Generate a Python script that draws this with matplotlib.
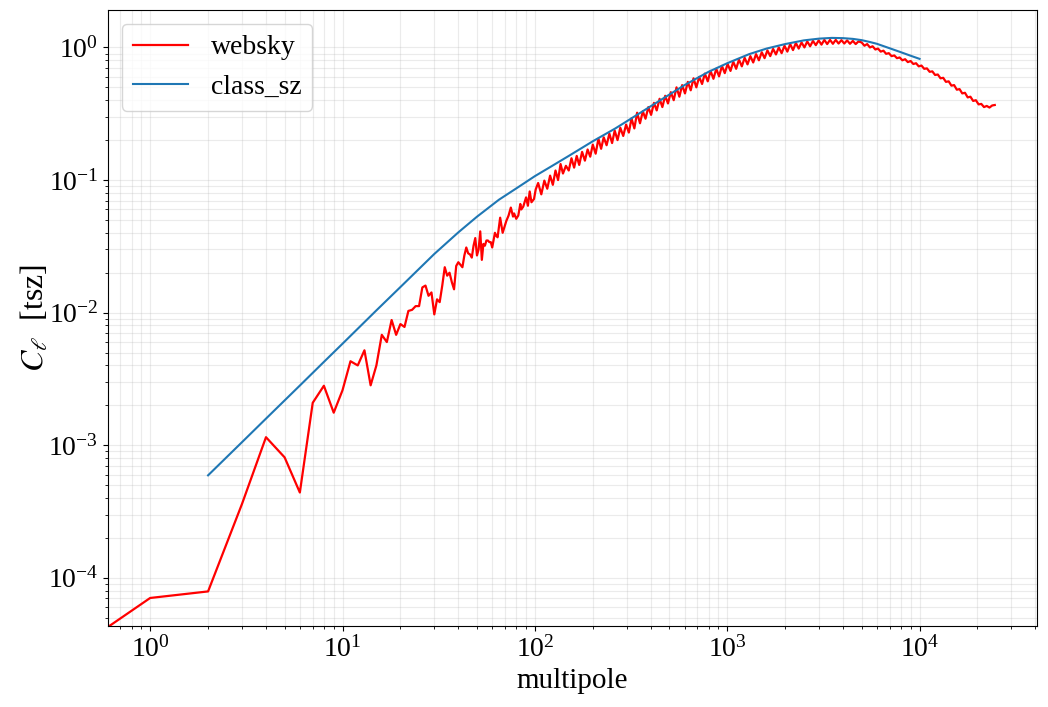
import numpy as np
import matplotlib.pyplot as plt


# ==================================
# DATA
# ==================================

# websky tSZ power spectrum, low multipoles one by one
ell_web_low = [0, 1, 2, 3, 4, 5, 6, 7, 8, 9,
               10, 11, 12, 13, 14, 15, 16, 17, 18, 19,
               20, 21, 22, 23, 24, 25, 26, 27, 28, 29,
               30, 31, 32, 33, 34, 35, 36, 37, 38, 39,
               40, 41, 42, 43, 44, 45, 46, 47, 48, 49,
               50, 51, 52, 53, 54, 55, 56, 57, 58, 59,
               60, 62, 63, 64, 66, 68, 70, 71, 73, 75,
               77, 78, 80, 82, 84, 85, 87, 90, 92, 94,
               96, 99, 101]

cl_web_low = [0.0, 7.05e-5, 7.9e-5, 3.6e-4, 1.15e-3, 8.1e-4, 4.4e-4, 2.09e-3, 2.81e-3, 1.76e-3,
              2.6e-3, 4.3e-3, 4.0e-3, 5.2e-3, 2.83e-3, 4.0e-3, 6.8e-3, 6.0e-3, 8.8e-3, 6.8e-3,
              8.2e-3, 7.8e-3, 1.03e-2, 1.05e-2, 1.12e-2, 1.12e-2, 1.55e-2, 1.6e-2, 1.34e-2, 1.42e-2,
              9.7e-3, 1.26e-2, 1.2e-2, 1.6e-2, 2.2e-2, 1.9e-2, 2.0e-2, 1.7e-2, 1.5e-2, 2.25e-2,
              2.4e-2, 2.3e-2, 2.2e-2, 2.7e-2, 3.1e-2, 2.8e-2, 2.75e-2, 2.6e-2, 3.2e-2, 3.65e-2,
              2.7e-2, 3.0e-2, 4.1e-2, 2.5e-2, 3.3e-2, 3.2e-2, 3.5e-2, 3.5e-2, 3.4e-2, 3.4e-2,
              3.1e-2, 4.0e-2, 3.8e-2, 3.7e-2, 5.2e-2, 4.0e-2, 4.6e-2, 4.9e-2, 5.4e-2, 6.2e-2,
              5.3e-2, 5.6e-2, 5.1e-2, 5.4e-2, 6.6e-2, 6.0e-2, 6.3e-2, 7.4e-2, 6.4e-2, 8.2e-2,
              6.8e-2, 7.2e-2, 8.5e-2]

# websky, higher multipoles: upper / lower edge of the noisy band
ell_web_high = [104, 108, 112, 116, 120, 124, 128, 132, 136, 140,
                145, 150, 155, 160, 165, 170, 176, 182, 188, 194,
                200, 207, 214, 221, 228, 236, 244, 252, 260, 269,
                278, 288, 298, 308, 318, 329, 340, 352, 364, 376,
                389, 402, 416, 430, 445, 460, 476, 492, 509, 527,
                545, 564, 583, 603, 624, 646, 668, 691, 715, 740,
                765, 792, 819, 848, 877, 907, 939, 971, 1005, 1040,
                1075, 1113, 1151, 1191, 1232, 1275, 1319, 1365, 1412, 1461,
                1512, 1564, 1618, 1674, 1732, 1792, 1854, 1918, 1985, 2054,
                2125, 2198, 2275, 2353, 2435, 2520, 2607, 2697, 2791, 2888,
                2988, 3091, 3198, 3309, 3424, 3543, 3666, 3793, 3924, 4060,
                4201, 4347, 4498, 4654, 4815, 5000, 5170, 5340, 5520, 5700,
                5890, 6080, 6280, 6490, 6700, 6920, 7150, 7390, 7630, 7880,
                8140, 8410, 8690, 8980, 9280, 9590, 9900, 10230, 10570, 10920,
                11280, 11650, 12040, 12440, 12850, 13270, 13710, 14170, 14640, 15120,
                15620, 16140, 16670, 17220, 17790, 18380, 18990, 19620, 20270, 20940,
                21630, 22350, 23090, 23850, 24600]

cl_web_high = [0.095, 0.078, 0.099, 0.086, 0.108, 0.092, 0.118, 0.100, 0.132, 0.112,
               0.128, 0.118, 0.146, 0.124, 0.152, 0.130, 0.163, 0.140, 0.170, 0.150,
               0.185, 0.158, 0.205, 0.172, 0.210, 0.183, 0.224, 0.190, 0.236, 0.200,
               0.248, 0.215, 0.262, 0.228, 0.292, 0.245, 0.322, 0.268, 0.330, 0.290,
               0.355, 0.310, 0.382, 0.335, 0.410, 0.355, 0.432, 0.378, 0.460, 0.400,
               0.500, 0.425, 0.520, 0.450, 0.550, 0.475, 0.585, 0.500, 0.600, 0.530,
               0.635, 0.555, 0.665, 0.580, 0.690, 0.605, 0.725, 0.640, 0.750, 0.665,
               0.780, 0.690, 0.810, 0.720, 0.835, 0.745, 0.860, 0.770, 0.890, 0.800,
               0.920, 0.830, 0.950, 0.860, 0.975, 0.885, 1.000, 0.905, 1.030, 0.930,
               1.060, 0.955, 1.080, 0.980, 1.090, 1.000, 1.110, 1.020, 1.120, 1.040,
               1.130, 1.050, 1.140, 1.060, 1.140, 1.065, 1.140, 1.070, 1.135, 1.070,
               1.130, 1.065, 1.120, 1.060, 1.110, 1.090, 1.030, 1.060, 1.000, 1.020,
               0.965, 0.980, 0.930, 0.945, 0.895, 0.905, 0.860, 0.870, 0.830, 0.840,
               0.800, 0.815, 0.775, 0.790, 0.750, 0.760, 0.720, 0.730, 0.690, 0.695,
               0.655, 0.660, 0.620, 0.625, 0.585, 0.590, 0.550, 0.555, 0.515, 0.520,
               0.480, 0.485, 0.450, 0.455, 0.420, 0.425, 0.395, 0.400, 0.372, 0.375,
               0.355, 0.362, 0.352, 0.365, 0.368]

# class_sz model prediction
ell_class = [2, 3, 4, 6, 8, 10, 15, 20, 30, 40,
             50, 65, 83, 100, 122, 150, 200, 262, 300, 400,
             600, 800, 1000, 1300, 1600, 2000, 2500, 3000, 3500, 4000,
             4500, 5000, 5500, 6000, 7000, 8000, 9000, 10000]

cl_class = [5.93e-4, 1.054e-3, 1.587e-3, 2.82e-3, 4.25e-3, 5.83e-3, 1.04e-2, 1.56e-2, 2.77e-2, 4.03e-2,
            5.29e-2, 7.1e-2, 8.95e-2, 0.107, 0.127, 0.152, 0.196, 0.245, 0.277, 0.36,
            0.52, 0.655, 0.76, 0.89, 0.98, 1.06, 1.13, 1.165, 1.18, 1.175,
            1.16, 1.135, 1.10, 1.065, 0.985, 0.92, 0.865, 0.82]

ell_web = np.array(ell_web_low + ell_web_high)
cl_web = np.array(cl_web_low + cl_web_high)


# ==================================
# STYLE
# ==================================

plt.rcParams['font.family'] = ['Liberation Serif', 'DejaVu Serif']
plt.rcParams['mathtext.fontset'] = 'stix'


# ==================================
# PLOT
# ==================================

fig, ax = plt.subplots(figsize=(10.48, 7.07), dpi=100)
fig.subplots_adjust(left=0.103, right=0.9895, top=0.986, bottom=0.1146)

ax.plot(ell_web, cl_web, color='r', lw=1.6, label='websky')
ax.plot(ell_class, cl_class, color='C0', lw=1.5, label='class_sz')

ax.set_xscale('log')
ax.set_yscale('log')

ax.grid(which='both', alpha=0.25)

ax.set_xlabel('multipole', fontsize=21)
ax.set_ylabel(r'$C_\ell$  [tsz]', fontsize=23, labelpad=-2)
ax.tick_params(axis='both', which='major', labelsize=20)

ax.legend(loc='upper left', fontsize=20)

fig.savefig('out.png', dpi=100)
